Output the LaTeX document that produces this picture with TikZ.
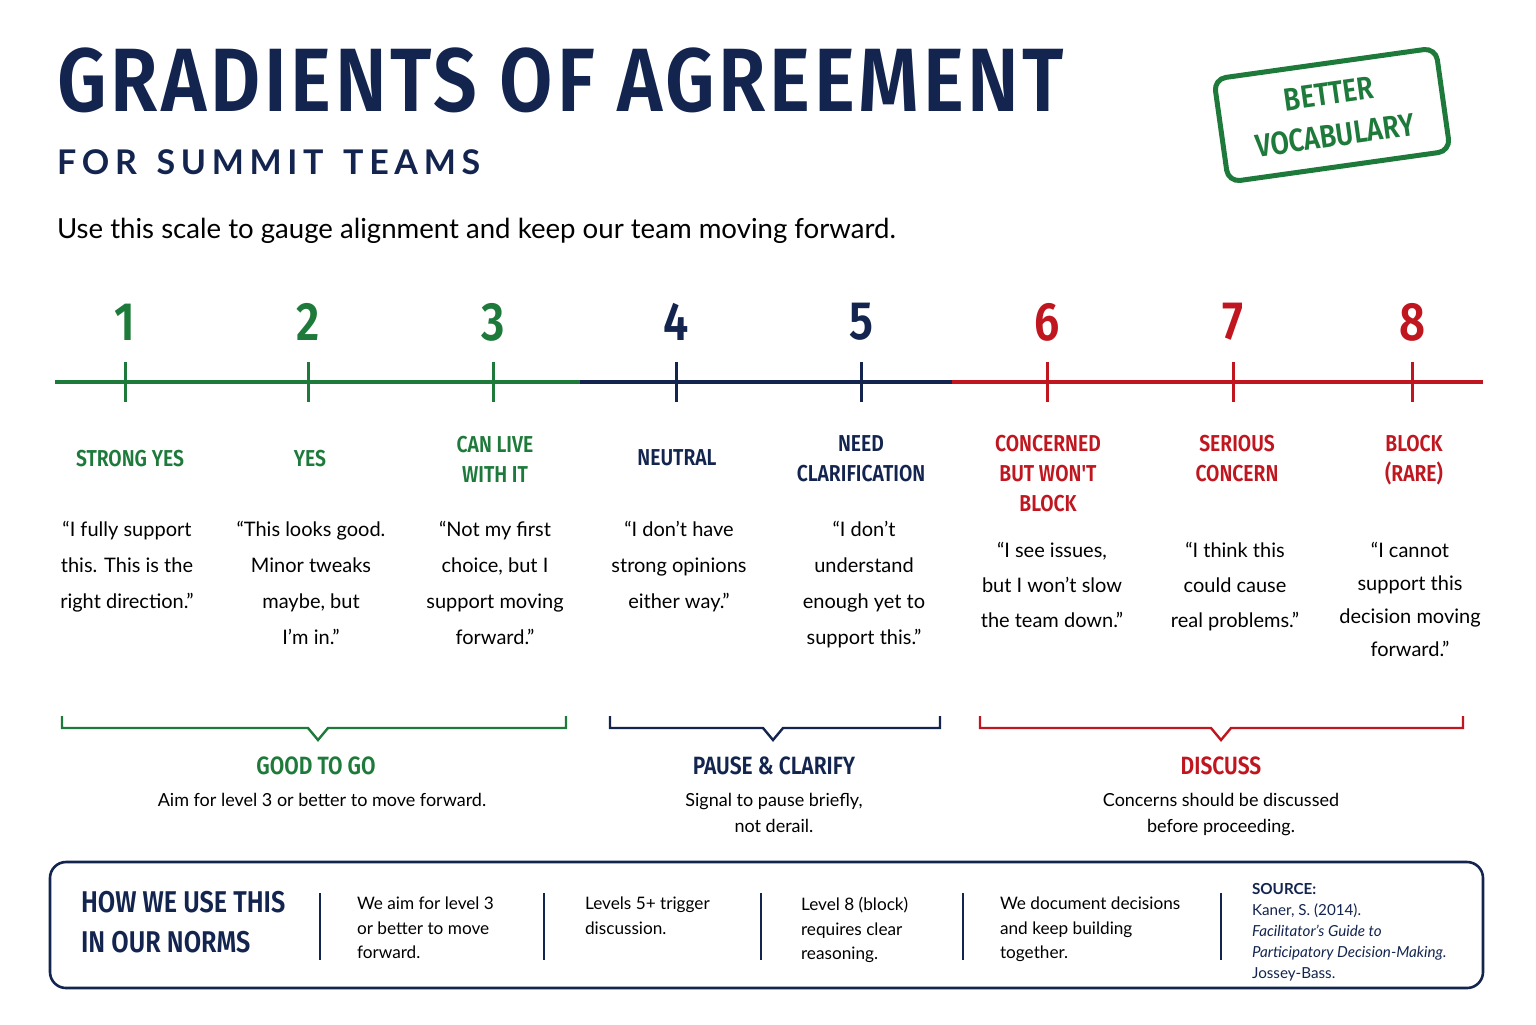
\documentclass[tikz,border=0pt]{standalone}
\usepackage{fontspec}
\setmainfont{Lato}
\newfontfamily\condt[FakeStretch=0.86,LetterSpace=4]{Fira Sans SemiBold}
\newfontfamily\condb[FakeStretch=0.84]{Fira Sans SemiBold}
\definecolor{navy}{HTML}{13254F}
\definecolor{grn}{HTML}{1E7A3A}
\definecolor{rd}{HTML}{C0161F}
\begin{document}
\begin{tikzpicture}[x=0.5pt,y=-0.5pt,
  num/.style={font=\condb\fontsize{27}{30}\selectfont},
  lab/.style={font=\condb\fontsize{11.5}{15}\selectfont,align=center,anchor=north},
  quo/.style={font=\fontsize{10}{18}\selectfont,align=center,anchor=north},
  gt/.style={font=\condb\fontsize{12.5}{15}\selectfont},
  gs/.style={font=\fontsize{9}{13}\selectfont,align=center,anchor=north},
  br/.style={line width=1.2pt},
  bt/.style={font=\fontsize{8.6}{12.3}\selectfont,align=left,anchor=north west},
  tk/.style={line width=1.5pt}]
\useasboundingbox (0,0) rectangle (1536,1024);
\fill[white] (0,0) rectangle (1536,1024);
% title
\node[anchor=west,text=navy,font=\condt\fontsize{45}{50}\selectfont] (title) at (50,80) {GRADIENTS OF AGREEMENT};
\node[anchor=west,text=navy,font=\bfseries\fontsize{17}{20}\selectfont] (sub) at (50,162) {F\,O\,R\, \,S\,U\,M\,M\,I\,T\, \,T\,E\,A\,M\,S};
\node[anchor=west,text=black,font=\fontsize{13.8}{17}\selectfont] (tag) at (50,231) {Use this scale to gauge alignment and keep our team moving forward.};
% stamp
\node[rotate=8,draw=grn,line width=2.5pt,rounded corners=6pt,minimum width=112pt,minimum height=52pt,text=grn,align=center,font=\condb\fontsize{16}{21}\selectfont] (stamp) at (1332,115) {BETTER\\VOCABULARY};
% axis
\coordinate (a0) at (55,382); \coordinate (a1) at (580,382); \coordinate (a2) at (952,382); \coordinate (a3) at (1483,382);
\draw[grn,line width=2pt] (a0)--(a1);
\draw[navy,line width=2pt] (a1)--(a2);
\draw[rd,line width=2pt] (a2)--(a3);
\foreach \x/\n/\c in {125/1/grn,308/2/grn,493/3/grn,676/4/navy,861/5/navy,1047/6/rd,1233/7/rd,1412/8/rd}{
  \draw[\c,tk] (\x,362)--(\x,402);
  \node[num,text=\c] (n\n) at (\x,322) {\n};
}
% labels
\node[lab,text=grn] (l1) at (130,443) {STRONG YES};
\node[lab,text=grn] (l2) at (310,443) {YES};
\node[lab,text=grn] (l3) at (495,429) {CAN LIVE\\WITH IT};
\node[lab,text=navy] (l4) at (677,443) {NEUTRAL};
\node[lab,text=navy] (l5) at (861,429) {NEED\\CLARIFICATION};
\node[lab,text=rd] (l6) at (1048,428) {CONCERNED\\BUT WON'T\\BLOCK};
\node[lab,text=rd] (l7) at (1237,428) {SERIOUS\\CONCERN};
\node[lab,text=rd] (l8) at (1414,428) {BLOCK\\(RARE)};
% quotes
\node[quo] (q1) at (127,514) {“I fully support\\this. This is the\\right direction.”};
\node[quo] (q2) at (311,514) {“This looks good.\\Minor tweaks\\maybe, but\\I’m in.”};
\node[quo] (q3) at (495,514) {“Not my first\\choice, but I\\support moving\\forward.”};
\node[quo] (q4) at (679,514) {“I don’t have\\strong opinions\\either way.”};
\node[quo] (q5) at (864,514) {“I don’t\\understand\\enough yet to\\support this.”};
\node[quo,font=\fontsize{10}{17.5}\selectfont] (q6) at (1052,535) {“I see issues,\\but I won’t slow\\the team down.”};
\node[quo,font=\fontsize{10}{17.5}\selectfont] (q7) at (1235,535) {“I think this\\could cause\\real problems.”};
\node[quo,font=\fontsize{10}{16.5}\selectfont] (q8) at (1410,535) {“I cannot\\support this\\decision moving\\forward.”};
% braces
\draw[grn,br] (62,716)--(62,728)--(308,728)--(318,740)--(328,728)--(566,728)--(566,716);
\draw[navy,br] (610,716)--(610,728)--(763,728)--(773,740)--(783,728)--(940,728)--(940,716);
\draw[rd,br] (980,716)--(980,728)--(1211,728)--(1221,740)--(1231,728)--(1463,728)--(1463,716);
\node[gt,text=grn] (g1) at (316,766) {GOOD TO GO};
\node[gs] (s1) at (322,786) {Aim for level 3 or better to move forward.};
\node[gt,text=navy] (g2) at (774,766) {PAUSE \& CLARIFY};
\node[gs] (s2) at (774,786) {Signal to pause briefly,\\not derail.};
\node[gt,text=rd] (g3) at (1221,766) {DISCUSS};
\node[gs] (s3) at (1221,786) {Concerns should be discussed\\before proceeding.};
% bottom box
\draw[navy,line width=1.3pt,rounded corners=8pt] (50,862) rectangle (1483,988);
\node[anchor=west,text=navy,align=left,font=\condb\fontsize{15}{20}\selectfont] (how) at (74,922) {HOW WE USE THIS\\IN OUR NORMS};
\foreach \x in {320,544,761,963,1221}{\draw[navy,line width=0.8pt] (\x,893)--(\x,960);}
\node[bt] (b1) at (350,890) {We aim for level 3\\or better to move\\forward.};
\node[bt] (b2) at (578,890) {Levels 5+ trigger\\discussion.};
\node[bt] (b3) at (794,890) {Level 8 (block)\\requires clear\\reasoning.};
\node[bt] (b4) at (993,890) {We document decisions\\and keep building\\together.};
\node[bt,text=navy,font=\fontsize{7.6}{10.6}\selectfont] (b5) at (1245,876) {\textbf{SOURCE:}\\Kaner, S. (2014).\\\textit{Facilitator’s Guide to}\\\textit{Participatory Decision-Making.}\\Jossey-Bass.};
\end{tikzpicture}
\end{document}
